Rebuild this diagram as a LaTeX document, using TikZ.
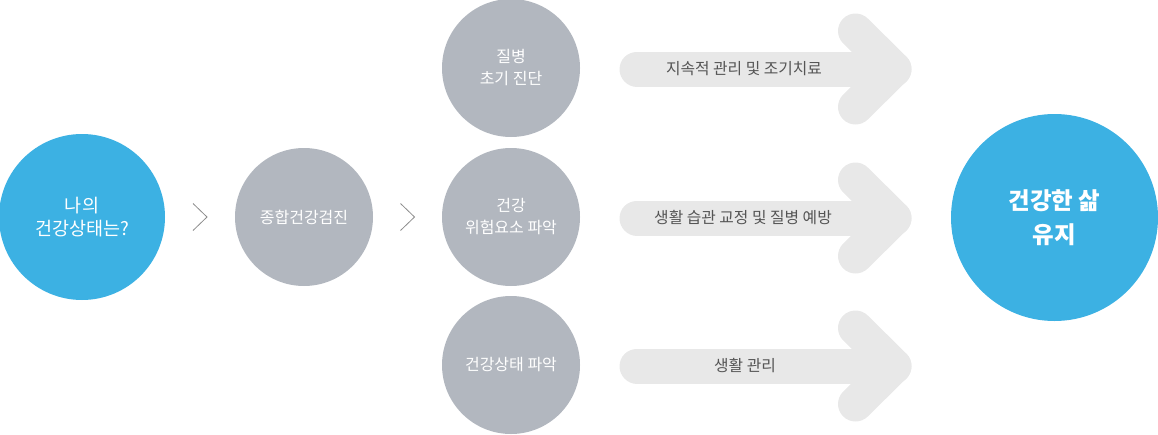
\documentclass[tikz,border=0pt]{standalone}
\usepackage{fontspec}
\setmainfont{Noto Sans CJK KR}
\usetikzlibrary{calc}
\definecolor{cblue}{RGB}{60,177,227}
\definecolor{cgray}{RGB}{178,183,191}
\definecolor{agray}{RGB}{232,232,232}
\definecolor{tgray}{RGB}{85,85,85}
\definecolor{chev}{RGB}{140,140,140}
\tikzset{
  bluecirc/.style={circle, fill=cblue, draw=none, inner sep=0pt, text=white, align=center},
  graycirc/.style={circle, fill=cgray, draw=none, minimum size=138pt, inner sep=0pt, text=white, align=center, font=\fontsize{16}{22}\selectfont},
  bigarrow/.style={draw=agray, line width=35pt, line cap=round, line join=round},
  arrowtext/.style={text=tgray, font=\fontsize{15.8}{18}\selectfont, inner sep=0pt},
  chevline/.style={draw=chev, line width=0.8pt}
}
\begin{document}
\begin{tikzpicture}[x=1pt, y=-1pt]
\useasboundingbox (0,0) rectangle (1158,434);
% circles
\node[bluecirc, minimum size=166pt, font=\fontsize{18.5}{23}\selectfont] (c1) at (82,217) {나의\\건강상태는?};
\node[graycirc] (c2) at (304,217) {종합건강검진};
\node[graycirc] (t1) at (511,68) {질병\\초기 진단};
\node[graycirc] (t2) at (511,217) {건강\\위험요소 파악};
\node[graycirc] (t3) at (511,365) {건강상태 파악};
\node[bluecirc, minimum size=207pt, font=\bfseries\fontsize{23.5}{34}\selectfont] (goal) at (1054.5,217.5) {건강한 삶\\유지};
% chevrons
\coordinate (m1) at ($(c1.east)!0.5!(c2.west)$);
\coordinate (m2) at ($(c2.east)!0.5!(t2.west)$);
\draw[chevline] ($(m1)+(-7,-13.5)$) -- ($(m1)+(7,0)$) -- ($(m1)+(-7,13.5)$);
\draw[chevline] ($(m2)+(-7,-13.5)$) -- ($(m2)+(7,0)$) -- ($(m2)+(-7,13.5)$);
% arrows
\foreach \y/\n in {69/a1, 218/a2, 366/a3}{
  \coordinate (\n s) at (637,\y);
  \coordinate (\n e) at (894,\y);
  \draw[bigarrow] (\n s) -- (\n e);
  \draw[bigarrow] ($(\n e)+(-38.5,-38)$) -- (\n e) -- ($(\n e)+(-38.5,38)$);
}
\node[arrowtext] (l1) at (744,69) {지속적 관리 및 조기치료};
\node[arrowtext] (l2) at (743,218) {생활 습관 교정 및 질병 예방};
\node[arrowtext] (l3) at (745,366) {생활 관리};
\end{tikzpicture}
\end{document}
